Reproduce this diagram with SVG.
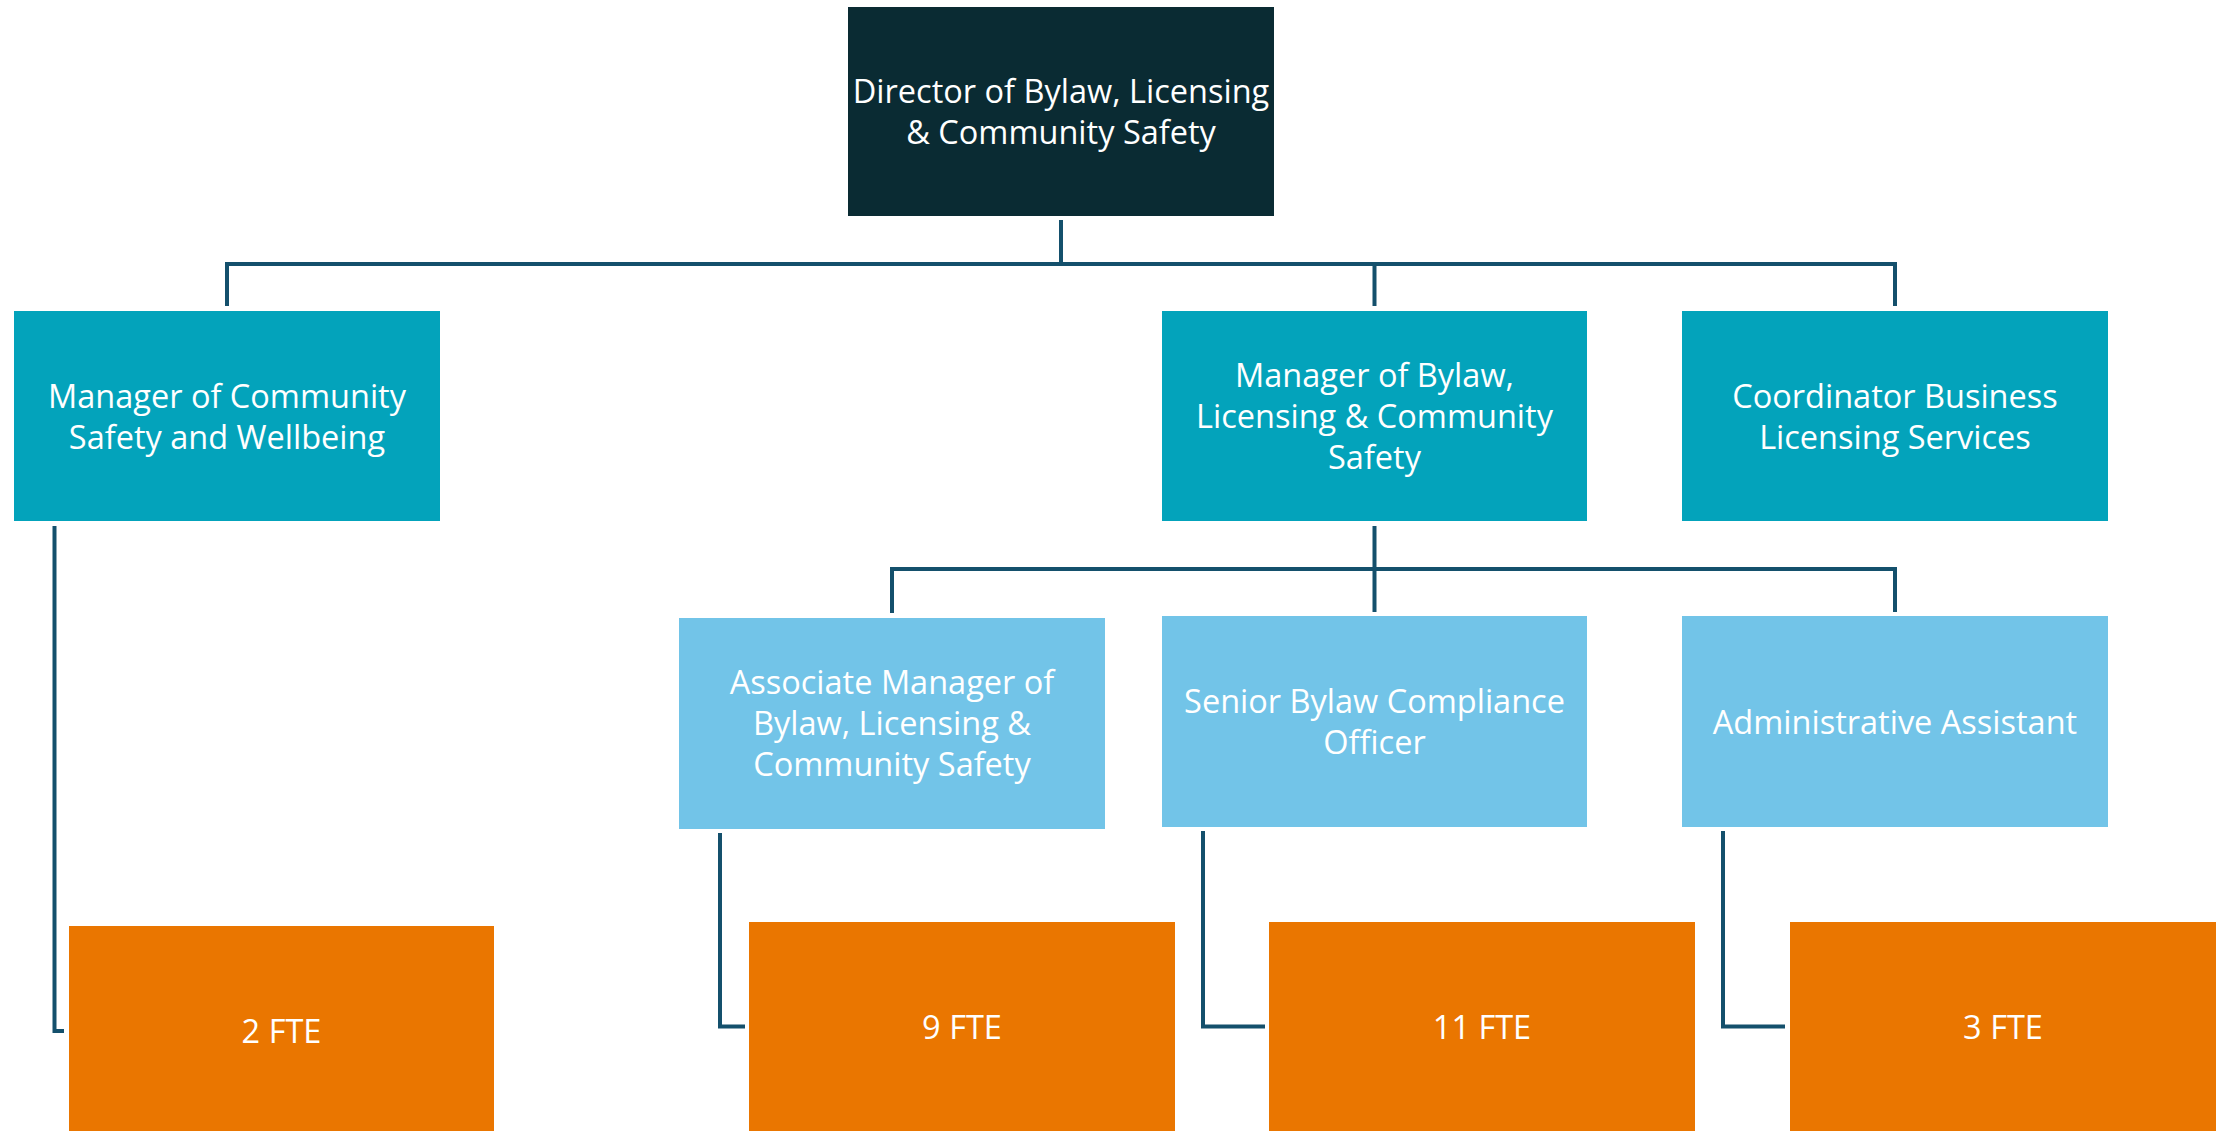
<svg xmlns="http://www.w3.org/2000/svg" width="2224" height="1131" viewBox="0 0 2224 1131">
<style>
.t{font-family:"Open Sans","Noto Sans","DejaVu Sans",sans-serif;font-size:32.5px;fill:#ffffff;text-anchor:middle}
.dir{fill:#0a2b33}
.mgr{fill:#03a3bb}
.sub{fill:#72c4e8}
.fte{fill:#ea7600}
.c{fill:none;stroke:#14506c;stroke-width:4}
</style>
<rect width="2224" height="1131" fill="#ffffff"/>
<g id="connectors">
<path class="c" d="M1061 220V264M227 306V264H1895V306M1374.5 264V306"/>
<path class="c" d="M1374.5 526V569M892 613V569H1895V612M1374.5 569V612"/>
<path class="c" d="M54.5 526V1031H64"/>
<path class="c" d="M720 833V1026.5H745"/>
<path class="c" d="M1203 831V1026.5H1265"/>
<path class="c" d="M1723 831V1026.5H1785"/>
</g>
<g id="director">
<rect class="dir" x="848" y="7" width="426" height="209"/>
<text class="t" x="1061" y="103">Director of Bylaw, Licensing</text>
<text class="t" x="1061" y="144">&amp; Community Safety</text>
</g>
<g id="mgr-community">
<rect class="mgr" x="14" y="311" width="426" height="210"/>
<text class="t" x="227" y="408">Manager of Community</text>
<text class="t" x="227" y="449">Safety and Wellbeing</text>
</g>
<g id="mgr-bylaw">
<rect class="mgr" x="1162" y="311" width="425" height="210"/>
<text class="t" x="1374.5" y="387">Manager of Bylaw,</text>
<text class="t" x="1374.5" y="428">Licensing &amp; Community</text>
<text class="t" x="1374.5" y="469">Safety</text>
</g>
<g id="coordinator">
<rect class="mgr" x="1682" y="311" width="426" height="210"/>
<text class="t" x="1895" y="408">Coordinator Business</text>
<text class="t" x="1895" y="449">Licensing Services</text>
</g>
<g id="associate">
<rect class="sub" x="679" y="618" width="426" height="211"/>
<text class="t" x="892" y="694">Associate Manager of</text>
<text class="t" x="892" y="735">Bylaw, Licensing &amp;</text>
<text class="t" x="892" y="776">Community Safety</text>
</g>
<g id="senior">
<rect class="sub" x="1162" y="616" width="425" height="211"/>
<text class="t" x="1374.5" y="713">Senior Bylaw Compliance</text>
<text class="t" x="1374.5" y="754">Officer</text>
</g>
<g id="admin">
<rect class="sub" x="1682" y="616" width="426" height="211"/>
<text class="t" x="1895" y="734">Administrative Assistant</text>
</g>
<g id="fte2">
<rect class="fte" x="69" y="926" width="425" height="210"/>
<text class="t" x="281.5" y="1043">2 FTE</text>
</g>
<g id="fte9">
<rect class="fte" x="749" y="922" width="426" height="210"/>
<text class="t" x="962" y="1039">9 FTE</text>
</g>
<g id="fte11">
<rect class="fte" x="1269" y="922" width="426" height="210"/>
<text class="t" x="1482" y="1039">11 FTE</text>
</g>
<g id="fte3">
<rect class="fte" x="1790" y="922" width="426" height="210"/>
<text class="t" x="2003" y="1039">3 FTE</text>
</g>
</svg>
